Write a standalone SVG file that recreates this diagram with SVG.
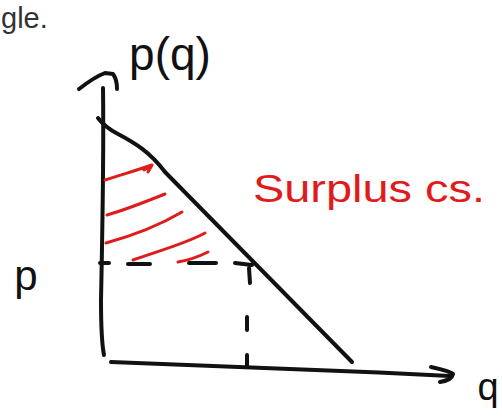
<svg xmlns="http://www.w3.org/2000/svg" width="502" height="418" viewBox="0 0 502 418">
<style>
.ink{fill:none;stroke:#111;stroke-width:4;stroke-linecap:round;stroke-linejoin:round}
.red{fill:none;stroke:#e01b1b;stroke-width:3;stroke-linecap:round;stroke-linejoin:round}
.hand{font-family:"Liberation Sans","DejaVu Sans",sans-serif}
</style>
<rect width="502" height="418" fill="#fff"/>
<text x="1" y="28" class="hand" font-size="29" fill="#333">gle.</text>
<g id="axes">
<path class="ink" d="M103,88 C104,160 102,250 101,300 C101,330 102,345 104,355"/>
<path class="ink" d="M79,89 C88,82 97,76 105,73 L113,74 C116,78 117,85 117,89"/>
<path class="ink" d="M111,362 C200,365 330,370 450,376"/>
<path class="ink" d="M431,367 C440,369 450,371 453,374 C452,379 446,381 440,382"/>
</g>
<g id="demand">
<path class="ink" d="M98,118 C104,126 110,130 118,134 C135,143 150,152 165,172 L352,362"/>
</g>
<g id="dashes">
<path class="ink" d="M100,263 L109,263 M128,264 L150,264 M189,263 L216,263 M235,263 L252,265"/>
<path class="ink" d="M249,268 L250,283 M247,317 L247,330 M247,355 L247,367"/>
</g>
<g id="hatch">
<path class="red" d="M105,180 C120,175 138,170 152,165 M144,170 L152,165 L148,172"/>
<path class="red" d="M107,215 C125,210 150,200 165,194"/>
<path class="red" d="M106,243 C135,235 160,225 182,212"/>
<path class="red" d="M133,260 C155,252 185,244 205,233"/>
<path class="red" d="M178,262 C190,260 200,256 208,252"/>
</g>
<g id="labels">
<text x="170" y="70" class="hand" font-size="46" text-anchor="middle" fill="#111">p(q)</text>
<text x="26" y="290" class="hand" font-size="42" text-anchor="middle" fill="#111">p</text>
<text x="488" y="400" class="hand" font-size="38" text-anchor="middle" fill="#111">q</text>
<text x="253" y="202" class="hand" font-size="38" fill="#e01b1b" textLength="232" lengthAdjust="spacingAndGlyphs">Surplus cs.</text>
</g>
</svg>
